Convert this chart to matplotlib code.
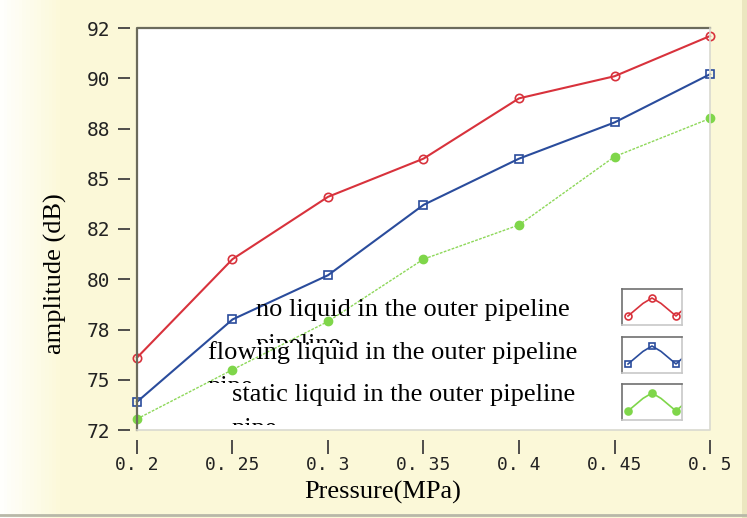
import numpy as np
import matplotlib.pyplot as plt
from matplotlib.transforms import Bbox

# pressure (MPa)
pressure = [0.2, 0.25, 0.3, 0.35, 0.4, 0.45, 0.5]

# amplitude (dB)
no_liquid = [75.6, 80.5, 83.6, 85.5, 88.5, 89.6, 91.6]
flowing_liquid = [73.4, 77.5, 79.7, 83.2, 85.5, 87.3, 89.7]
static_liquid = [72.55, 75.0, 77.4, 80.5, 82.2, 85.6, 87.5]

labels = ["no liquid in the outer pipeline",
          "flowing liquid in the outer pipeline",
          "static liquid in the outer pipeline"]
wrapped = ["pipeline", "pipe", "pipe"]

y_ticks = np.linspace(72, 92, 9)
y_tick_labels = ["72", "75", "78", "80", "82", "85", "88", "90", "92"]
x_tick_labels = ["0. 2", "0. 25", "0. 3", "0. 35", "0. 4", "0. 45", "0. 5"]

W, H = 747, 518
fig = plt.figure(figsize=(W / 100, H / 100), dpi=100)

# pale yellow background, whiter on the left
bg = fig.add_axes([0, 0, 1, 1])
grad = np.ones((10, 200, 3))
t = np.clip(np.linspace(0, 1, 200) / 0.08, 0, 1)
white = np.array([1.0, 1.0, 0.99])
cream = np.array([0.988, 0.976, 0.85])
grad[:] = white + (cream - white) * t[None, :, None]
bg.imshow(grad, aspect='auto', extent=[0, 1, 0, 1])
bg.set_xlim(0, 1)
bg.set_ylim(0, 1)
bg.plot([0, 1], [3 / H, 3 / H], color='#b8b8a8', lw=2)
bg.axvspan(1 - 5 / W, 1, color='#ebe6c0', lw=0)
bg.axis('off')

def px(x0, y0, x1, y1):
    return [x0 / W, 1 - y1 / H, (x1 - x0) / W, (y1 - y0) / H]

ax = fig.add_axes(px(137, 28, 710, 430))
ax.set_facecolor('white')

ax.plot(pressure, no_liquid, color='#d8323c', lw=1.5, marker='o', ms=6,
        mfc='none', mec='#d8323c', mew=1.2, clip_on=False, zorder=4)
ax.plot(pressure, flowing_liquid, color='#2a4c9c', lw=1.5, marker='s', ms=6,
        mfc='none', mec='#2a4c9c', mew=1.2, clip_on=False, zorder=4)
ax.plot(pressure, static_liquid, color='#8ed85a', lw=1.0, ls=(0, (2, 1)),
        marker='o', ms=6, mfc='#7fd64a', mec='#7fd64a', clip_on=False, zorder=4)

ax.set_xlim(0.2, 0.5)
ax.set_ylim(72, 92)
ax.set_xticks(pressure)
ax.set_xticklabels(x_tick_labels)
ax.set_yticks(y_ticks)
ax.set_yticklabels(y_tick_labels)

for s in ax.spines.values():
    s.set_visible(False)
ax.spines['left'].set_position(('outward', 5))
ax.spines['bottom'].set_position(('outward', 7))
ax.tick_params(axis='y', length=9, width=1.3, color='#404040', pad=5,
               labelsize=14, labelcolor='#222222')
ax.tick_params(axis='x', length=10, width=1.3, color='#404040', pad=2,
               labelsize=13, labelcolor='#222222')
for lab in ax.get_xticklabels() + ax.get_yticklabels():
    lab.set_family('DejaVu Sans Mono')

# frame: dark top/left, light bottom/right
ax.plot([0, 0, 1], [0, 1, 1], transform=ax.transAxes, color='#6b6b5c',
        lw=1.6, clip_on=False, zorder=5)
ax.plot([0, 1, 1], [0, 0, 1], transform=ax.transAxes, color='#d9d9d0',
        lw=1.2, clip_on=False, zorder=5)

fig.text(383 / W, 1 - 492 / H, "Pressure(MPa)", family='Liberation Serif',
         fontsize=19, ha='center', va='center')
fig.text(55 / W, 1 - 274 / H, "amplitude (dB)", family='Liberation Serif',
         fontsize=19, ha='center', va='center', rotation=90)

# legend text with clipped second lines
text_x = [256, 208, 232]
base_y = [316, 359, 401]
wrap_y = [351, 393, 435]
clip_bottom = [343, 383, 425]
for lab, wr, x, y, wy, cb in zip(labels, wrapped, text_x, base_y, wrap_y,
                                 clip_bottom):
    fig.text(x / W, 1 - y / H, lab, family='Liberation Serif', fontsize=19,
             ha='left', va='baseline', zorder=6)
    t2 = fig.text(x / W, 1 - wy / H, wr, family='Liberation Serif',
                  fontsize=19, ha='left', va='baseline', zorder=6)
    t2.set_clip_box(Bbox([[x - 5, H - cb], [x + 200, H - y - 4]]))
    t2.set_clip_on(True)

# legend icons
icon_colors = ['#d8323c', '#2a4c9c', '#7fd64a']
icon_markers = ['o', 's', 'o']
icon_fill = ['none', 'none', '#7fd64a']
icon_top = [289, 337, 384]
for c, m, f, top in zip(icon_colors, icon_markers, icon_fill, icon_top):
    ia = fig.add_axes(px(622, top, 682, top + 36))
    ia.set_xlim(0, 1)
    ia.set_ylim(0, 1)
    ia.set_xticks([])
    ia.set_yticks([])
    ia.set_facecolor('white')
    for side, s in ia.spines.items():
        s.set_color('#707070' if side in ('top', 'left') else '#c8c8c8')
        s.set_linewidth(1.2)
    ia.plot([0.1, 0.35, 0.5, 0.65, 0.9, 1.0], [0.25, 0.6, 0.75, 0.6, 0.25, 0.4],
            color=c, lw=1.2)
    ia.plot([0.1, 0.5, 0.9], [0.25, 0.75, 0.25], ls='none', marker=m, ms=5,
            mfc=f, mec=c, mew=1.2)

fig.savefig('out.png', dpi=100)
